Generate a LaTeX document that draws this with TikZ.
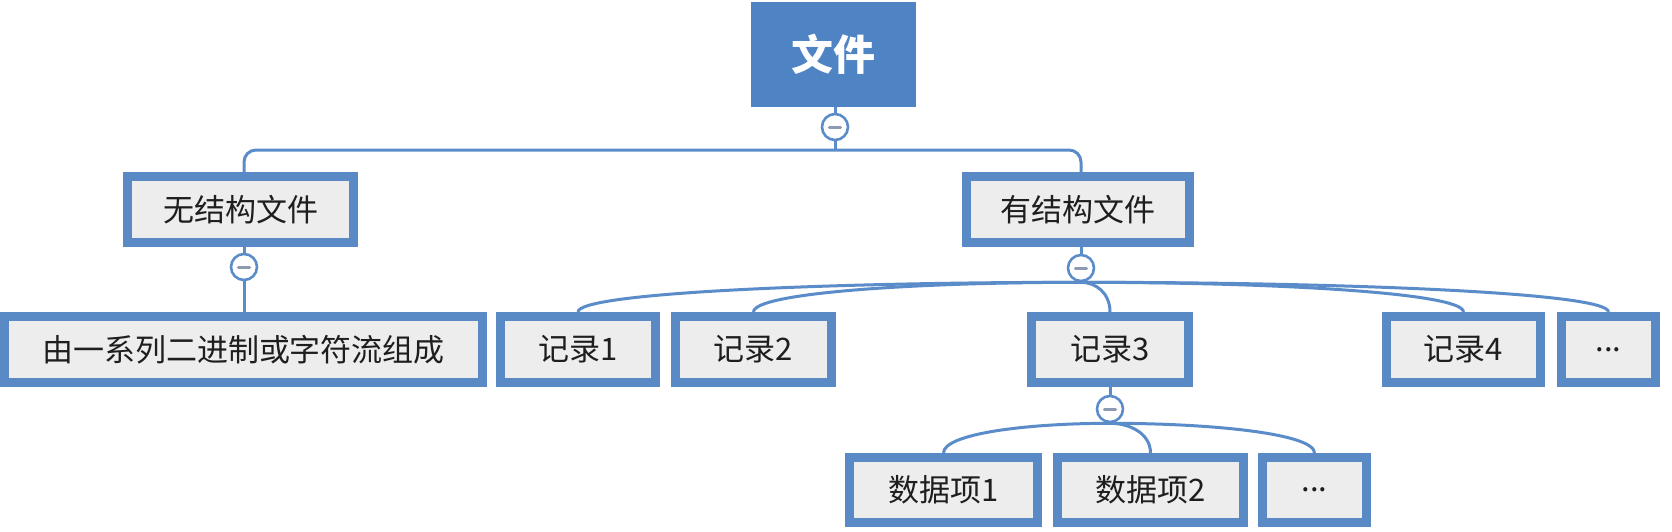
\documentclass[tikz,border=0pt]{standalone}
\usepackage{fontspec}
\newfontfamily\cjk{Noto Sans CJK SC}
\usetikzlibrary{calc}
\definecolor{bd}{HTML}{5A8AC6}
\definecolor{rootfill}{HTML}{4F84C4}
\definecolor{nf}{HTML}{EDEDED}
\definecolor{ln}{HTML}{5B8CCA}
\definecolor{txt}{HTML}{1E1E1E}
\definecolor{dashg}{HTML}{8C9AB2}
\begin{document}
\begin{tikzpicture}[x=0.5pt,y=-0.5pt,
  rootbox/.style={fill=rootfill, inner sep=0pt, text=white, font=\cjk\bfseries\fontsize{21pt}{25pt}\selectfont},
  box/.style={draw=bd, line width=4.5pt, fill=nf, inner sep=0pt, minimum height=33pt, text=txt, font=\cjk\fontsize{15.5pt}{18pt}\selectfont},
  tog/.style={circle, draw=ln, line width=1.3pt, fill=white, minimum size=13pt, inner sep=0pt,
     path picture={\draw[dashg, line width=1.5pt, line cap=round] ($(path picture bounding box.center)+(-2.8pt,0)$) -- ($(path picture bounding box.center)+(2.8pt,0)$);}},
  conn/.style={draw=ln, line width=1.5pt},
  curv/.style={to path={.. controls ($(\tikztostart)!0.5!(\tikztotarget |- \tikztostart)$) and ($(\tikztotarget)!0.65!(\tikztotarget |- \tikztostart)$) .. (\tikztotarget)}}
]
\fill[white] (0,0) rectangle (1672,531);
\useasboundingbox (0,0) rectangle (1672,531);

% nodes
\node[rootbox, minimum width=82.5pt, minimum height=52.5pt] (root) at (833.5,54.5) {文件};
\node[box, minimum width=113pt] (n1) at (240.5,209.5) {无结构文件};
\node[box, minimum width=111.5pt] (n2) at (1078,209.5) {有结构文件};
\node[box, minimum width=239pt] (n11) at (243.5,349.5) {由一系列二进制或字符流组成};
\node[box, minimum width=77.5pt] (r1) at (578,349.5) {记录1};
\node[box, minimum width=78pt] (r2) at (753.5,349.5) {记录2};
\node[box, minimum width=78.5pt] (r3) at (1110,349.5) {记录3};
\node[box, minimum width=77pt] (r4) at (1463.5,349.5) {记录4};
\node[box, minimum width=47pt] (r5) at (1608.5,349.5) {...};
\node[box, minimum width=94pt, minimum height=32.5pt] (d1) at (943.5,490) {数据项1};
\node[box, minimum width=93pt, minimum height=32.5pt] (d2) at (1150.5,490) {数据项2};
\node[box, minimum width=52pt, minimum height=32.5pt] (d3) at (1314.5,490) {...};

% toggles
\node[tog] (c0) at (835,127) {};
\node[tog] (c1) at (244,267) {};
\node[tog] (c2) at (1081,268) {};
\node[tog] (c3) at (1110,409) {};
\coordinate (bus) at (835,150);

% connectors
\draw[conn] (root.south -| c0) -- (c0.north);
\draw[conn] (c0.south) -- (bus);
\draw[conn, rounded corners=6pt] (n1.north -| c1) |- (bus) -| (n2.north -| c2);
\draw[conn] (n1.south -| c1) -- (c1.north);
\draw[conn] (c1.south) -- (n11.north -| c1);
\draw[conn] (n2.south -| c2) -- (c2.north);
\draw[conn] (c2.south) to[curv] (r1.north);
\draw[conn] (c2.south) to[curv] (r2.north);
\draw[conn] (c2.south) to[curv] (r3.north);
\draw[conn] (c2.south) to[curv] (r4.north);
\draw[conn] (c2.south) to[curv] (r5.north);
\draw[conn] (r3.south) -- (c3.north);
\draw[conn] (c3.south) to[curv] (d1.north);
\draw[conn] (c3.south) to[curv] (d2.north);
\draw[conn] (c3.south) to[curv] (d3.north);
\end{tikzpicture}
\end{document}
